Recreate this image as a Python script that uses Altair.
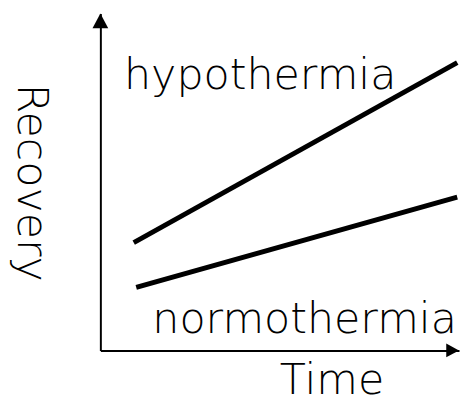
import altair as alt
import pandas as pd

# Data (abstract units: Time 0-10, Recovery 0-10)
series = ["hypothermia", "hypothermia", "normothermia", "normothermia"]
time_vals = [0.93, 9.95, 1.0, 9.95]
recovery_vals = [3.2, 8.54, 1.87, 4.55]

label_text = ["hypothermia", "normothermia"]
label_time = [0.66, 1.45]
label_recovery = [7.76, 0.52]

FONT = "DejaVu Sans"
FS = 43.5
FW = 200

lines_df = pd.DataFrame({"series": series, "time": time_vals, "recovery": recovery_vals})
labels_df = pd.DataFrame({"label": label_text, "time": label_time, "recovery": label_recovery})

xscale = alt.Scale(domain=[0, 10], nice=False, zero=False)
yscale = alt.Scale(domain=[0, 10], nice=False, zero=False)

xaxis = alt.Axis(title="Time", ticks=False, labels=False, grid=False,
                 domainColor="black", domainWidth=2,
                 titleX=182, titleY=44, titleAlign="left", titleBaseline="alphabetic",
                 titleFont=FONT, titleFontSize=FS, titleFontWeight=FW, titleColor="black")
yaxis = alt.Axis(title="Recovery", ticks=False, labels=False, grid=False,
                 domainColor="black", domainWidth=2,
                 titleX=-84, titleY=71, titleAngle=90, titleAlign="left", titleBaseline="alphabetic",
                 titleFont=FONT, titleFontSize=FS, titleFontWeight=FW, titleColor="black")

lines = alt.Chart(lines_df).mark_line(color="black", strokeWidth=5, strokeCap="butt").encode(
    x=alt.X("time:Q", scale=xscale, axis=xaxis),
    y=alt.Y("recovery:Q", scale=yscale, axis=yaxis),
    detail="series:N",
)

labels = alt.Chart(labels_df).mark_text(
    align="left", baseline="alphabetic", font=FONT, fontSize=FS, fontWeight=FW, color="black"
).encode(
    x=alt.X("time:Q", scale=xscale, axis=xaxis),
    y=alt.Y("recovery:Q", scale=yscale, axis=yaxis),
    text="label:N",
)

yarrow = alt.Chart(pd.DataFrame({"a": [0]})).mark_point(
    shape="M0,0L1,1.875L-1,1.875Z", size=256, filled=True, color="black", opacity=1, strokeWidth=0
).encode(
    x=alt.X(datum=0, scale=xscale, axis=xaxis),
    y=alt.Y(datum=10, scale=yscale, axis=yaxis),
)

xarrow = alt.Chart(pd.DataFrame({"a": [0]})).mark_point(
    shape="M0,0L-1.857,-1L-1.857,1Z", size=196, filled=True, color="black", opacity=1, strokeWidth=0
).encode(
    x=alt.X(datum=10, scale=xscale, axis=xaxis),
    y=alt.Y(datum=0, scale=yscale, axis=yaxis),
)

chart = alt.layer(lines, labels, yarrow, xarrow).properties(
    width=365, height=343,
    padding={"left": 94, "top": 2, "right": 1, "bottom": 56},
    autosize=alt.AutoSizeParams(type="none"),
    background="white",
).configure_view(stroke=None)

chart.save("out.html", embed_options={"renderer": "svg", "actions": False})
